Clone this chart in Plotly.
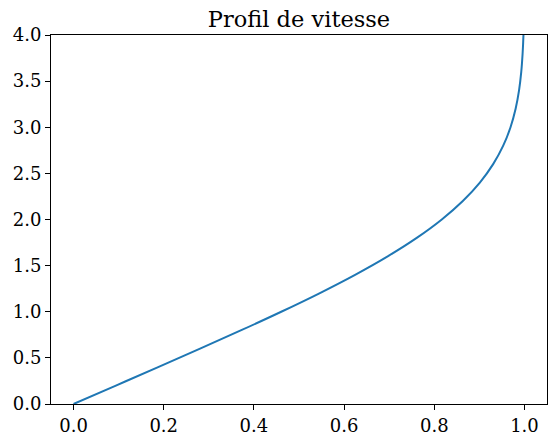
import plotly.graph_objects as go

# Vitesse u/U (axe x) en fonction de eta (axe y)
eta = [0.0, 0.2, 0.4, 0.6, 0.8, 1.0, 1.2, 1.4, 1.6, 1.8, 2.0, 2.2, 2.4, 2.6,
       2.8, 3.0, 3.2, 3.4, 3.6, 3.8, 4.0, 4.2, 4.4]
u = [0.0, 0.0939, 0.1876, 0.2806, 0.3720, 0.4606, 0.5453, 0.6244, 0.6967,
     0.7611, 0.8167, 0.8633, 0.9011, 0.9306, 0.9529, 0.9691, 0.9804, 0.9880,
     0.9929, 0.9959, 0.9978, 0.9988, 0.9994]

x_ticks = [0.0, 0.2, 0.4, 0.6, 0.8, 1.0]
y_ticks = [0.0, 0.5, 1.0, 1.5, 2.0, 2.5, 3.0, 3.5, 4.0]

fig = go.Figure(go.Scatter(x=u, y=eta, mode="lines", line=dict(color="#1f77b4", width=2, shape="spline"),
                           showlegend=False))

font = dict(family="DejaVu Serif", size=18, color="black")
axis_common = dict(showgrid=False, zeroline=False, showline=True, linecolor="black", linewidth=1,
                   mirror=True, ticks="outside", ticklen=5, tickwidth=1, tickcolor="black",
                   tickfont=font, automargin=False)
fig.update_xaxes(range=[-0.05, 1.05], tickvals=x_ticks, ticktext=[f"{v:.1f}" for v in x_ticks], **axis_common)
fig.update_yaxes(range=[0, 4], tickvals=y_ticks, ticktext=[f"{v:.1f}" for v in y_ticks], **axis_common)

fig.update_layout(
    width=556, height=442,
    margin=dict(l=51, r=9, t=35, b=38, autoexpand=False),
    paper_bgcolor="white", plot_bgcolor="white",
    title=dict(text="Profil de vitesse", x=(51 + 547) / 2 / 556, xanchor="center", y=1 - 19 / 442, yanchor="middle",
               font=dict(family="DejaVu Serif", size=22.5, color="black")),
    font=font,
)
fig.write_html("out.html", config={"displayModeBar": False},
               post_script="document.body.style.margin='0';document.body.style.overflow='hidden';")
